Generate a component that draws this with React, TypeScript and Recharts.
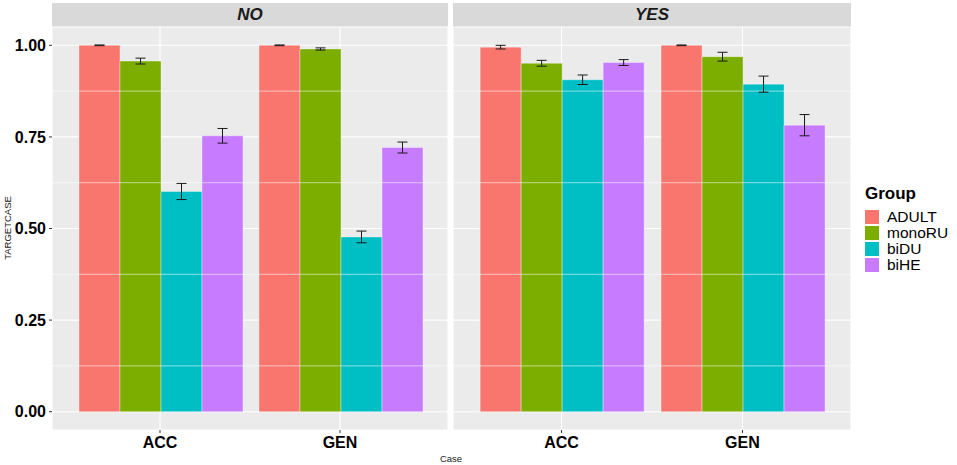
import React from 'react';
import { BarChart, Bar, XAxis, YAxis, CartesianGrid, ErrorBar, ReferenceLine } from 'recharts';

const CASES = ['ACC', 'GEN'];
const GROUPS = ['ADULT', 'monoRU', 'biDU', 'biHE'];
const COLORS = ['#F8766D', '#7CAE00', '#00BFC4', '#C77CFF'];

// mean TARGETCASE per group (ADULT, monoRU, biDU, biHE)
const NO_ACC = [1.0, 0.957, 0.601, 0.753];
const NO_GEN = [1.0, 0.99, 0.477, 0.721];
const YES_ACC = [0.995, 0.951, 0.906, 0.953];
const YES_GEN = [1.0, 0.969, 0.894, 0.782];
// standard errors
const NO_ACC_SE = [0.001, 0.008, 0.022, 0.02];
const NO_GEN_SE = [0.001, 0.003, 0.016, 0.015];
const YES_ACC_SE = [0.005, 0.008, 0.013, 0.008];
const YES_GEN_SE = [0.001, 0.012, 0.022, 0.029];

const Y_TICKS = [0, 0.25, 0.5, 0.75, 1];
const Y_MINOR = [0.125, 0.375, 0.625, 0.875];
const Y_DOMAIN = [-0.05, 1.05];

const FONT = '"Liberation Sans", Arial, Helvetica, sans-serif';

function buildRows(means: number[][], ses: number[][]) {
  return CASES.map((c, i) => {
    const row: any = { case: c };
    GROUPS.forEach((g, j) => {
      row[g] = means[i][j];
      row[g + '_se'] = ses[i][j];
    });
    return row;
  });
}

const NO_ROWS = buildRows([NO_ACC, NO_GEN], [NO_ACC_SE, NO_GEN_SE]);
const YES_ROWS = buildRows([YES_ACC, YES_GEN], [YES_ACC_SE, YES_GEN_SE]);

const TOP = 27;
const BOTTOM_AXIS = 35;
const H = 465;

function Panel({ title, rows, left, plotW, showY }: { title: string; rows: any[]; left: number; plotW: number; showY: boolean }) {
  const yw = showY ? 52 : 0;
  const pad = plotW / 22;
  return (
    <>
      <div
        style={{
          position: 'absolute',
          left: left + yw,
          top: 3,
          width: plotW,
          height: TOP - 3,
          background: '#D9D9D9',
          fontFamily: FONT,
          fontWeight: 'bold',
          fontStyle: 'italic',
          fontSize: 17,
          lineHeight: `${TOP - 3}px`,
          textAlign: 'center',
          color: '#1a1a1a',
        }}
      >
        {title}
      </div>
      <div style={{ position: 'absolute', left, top: 0 }}>
        <BarChart
          width={yw + plotW}
          height={H}
          data={rows}
          margin={{ top: TOP, right: 0, bottom: 0, left: 0 }}
          barCategoryGap="5%"
          barGap={0}
        >
          <CartesianGrid fill="#EBEBEB" stroke="#FFFFFF" strokeWidth={1.1} />
          {Y_MINOR.map((v) => (
            <ReferenceLine key={v} y={v} stroke="#FFFFFF" strokeWidth={0.55} ifOverflow="hidden" />
          ))}
          <XAxis
            dataKey="case"
            type="category"
            height={BOTTOM_AXIS}
            padding={{ left: pad, right: pad }}
            axisLine={false}
            tickLine={{ stroke: '#333333', strokeWidth: 1 }}
            tickSize={3}
            tickMargin={4}
            tick={{ fill: '#000000', fontSize: 16, fontWeight: 'bold', fontFamily: FONT }}
            interval={0}
          />
          <YAxis
            type="number"
            domain={Y_DOMAIN}
            ticks={Y_TICKS}
            hide={!showY}
            width={yw}
            axisLine={false}
            tickLine={{ stroke: '#333333', strokeWidth: 1 }}
            tickSize={3}
            tickMargin={3}
            tickFormatter={(v: number) => v.toFixed(2)}
            tick={{ fill: '#000000', fontSize: 16, fontWeight: 'bold', fontFamily: FONT }}
            allowDataOverflow
          />
          {GROUPS.map((g, i) => (
            <Bar
              key={g}
              dataKey={g}
              fill={COLORS[i]}
              stroke="#FFFFFF"
              strokeOpacity={0.45}
              strokeWidth={0.8}
              isAnimationActive={false}
            >
              <ErrorBar dataKey={g + '_se'} width={5} stroke="#1a1a1a" strokeWidth={1} direction="y" />
            </Bar>
          ))}
        </BarChart>
      </div>
    </>
  );
}

export default function App() {
  return (
    <div
      style={{
        position: 'absolute',
        left: 0,
        top: 0,
        width: 957,
        height: 465,
        background: '#FFFFFF',
        overflow: 'hidden',
        fontFamily: FONT,
      }}
    >
      <Panel title="NO" rows={NO_ROWS} left={0} plotW={396} showY={true} />
      <Panel title="YES" rows={YES_ROWS} left={453} plotW={398} showY={false} />

      <div
        style={{
          position: 'absolute',
          left: 7.5,
          top: 228,
          transform: 'translate(-50%, -50%) rotate(-90deg)',
          fontSize: 9.5,
          color: '#222',
          whiteSpace: 'nowrap',
          lineHeight: '10px',
        }}
      >
        TARGETCASE
      </div>
      <div
        style={{
          position: 'absolute',
          left: 451,
          top: 453,
          transform: 'translateX(-50%)',
          fontSize: 9.5,
          color: '#222',
          lineHeight: '11px',
        }}
      >
        Case
      </div>

      <div style={{ position: 'absolute', left: 865, top: 184 }}>
        <div style={{ fontWeight: 'bold', fontSize: 17, lineHeight: '20px', color: '#000' }}>Group</div>
        <div style={{ marginTop: 5 }}>
          {GROUPS.map((g, i) => (
            <div key={g} style={{ display: 'flex', alignItems: 'center', height: 16 }}>
              <div style={{ width: 14, height: 14, background: COLORS[i] }} />
              <div style={{ marginLeft: 8, fontSize: 15.5, lineHeight: '16px', color: '#000', whiteSpace: 'nowrap' }}>{g}</div>
            </div>
          ))}
        </div>
      </div>
    </div>
  );
}
